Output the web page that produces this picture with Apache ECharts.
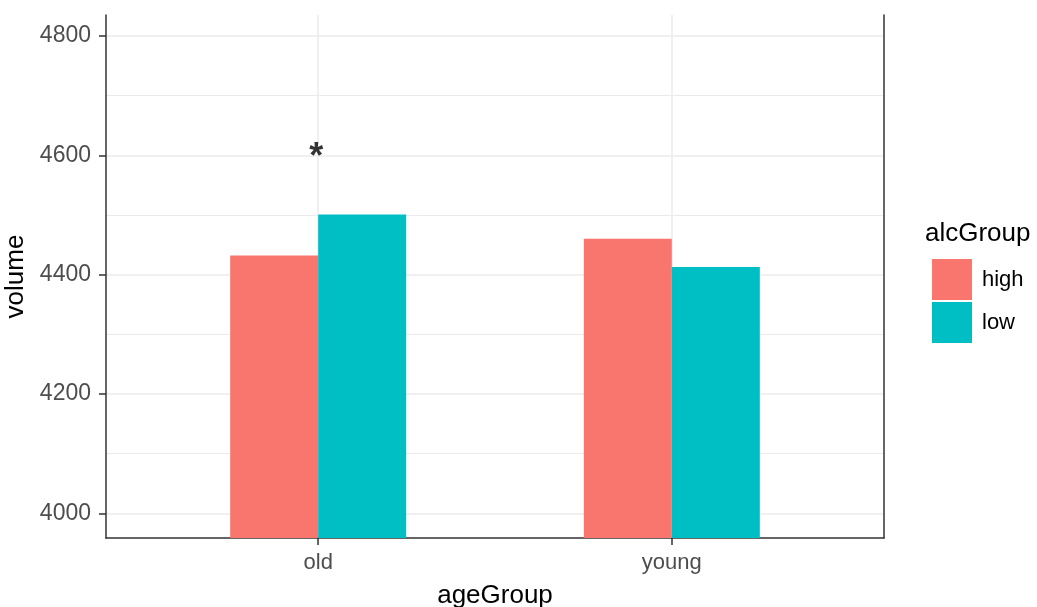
<!DOCTYPE html>
<html>
<head>
<meta charset="utf-8">
<title>volume by ageGroup</title>
<script src="https://cdn.jsdelivr.net/npm/echarts@6/dist/echarts.min.js"></script>
<style>
  html, body { margin: 0; padding: 0; background: #fff; }
  #chart { width: 1037px; height: 607px; }
</style>
</head>
<body>
<div id="chart"></div>
<script>
// categories on x, dodge groups
var ageGroups = ['old', 'young'];
var alcGroups = ['high', 'low'];
// mean volume per group
var highVolume = [4432, 4460];
var lowVolume = [4501, 4413];
// y breaks
var majorBreaks = [4000, 4200, 4400, 4600, 4800];
var minorBreaks = [4100, 4300, 4500, 4700];
// significance mark
var sigGroup = [1];
var sigY = [4600];
var sigText = ['*'];

var yMin = 3958.6, yMax = 4835.2;
var fontFam = '"Liberation Sans", Arial, sans-serif';

function toPoints(arr) {
    return arr.map(function (v, i) { return [i + 1, v]; });
}

var myChart = echarts.init(document.getElementById('chart'));
var option = {
    animation: false,
    textStyle: { fontFamily: fontFam },
    title: {
        text: 'alcGroup',
        left: 920,
        top: 216,
        textStyle: { fontSize: 26, fontWeight: 'normal', color: '#000', fontFamily: fontFam }
    },
    legend: {
        data: alcGroups,
        orient: 'vertical',
        left: 927,
        top: 254,
        icon: 'rect',
        itemWidth: 40,
        itemHeight: 41,
        itemGap: 2,
        textStyle: { fontSize: 22, color: '#000', padding: [0, 0, 0, 5], fontFamily: fontFam }
    },
    grid: { left: 106, right: 153, top: 15, bottom: 69, outerBoundsMode: 'none', containLabel: false },
    xAxis: {
        type: 'value',
        min: 0.4,
        max: 2.6,
        name: 'ageGroup',
        nameLocation: 'middle',
        nameGap: 45,
        nameTextStyle: { fontSize: 26, color: '#000', fontFamily: fontFam },
        axisLine: { show: true, lineStyle: { color: '#333', width: 1.5 } },
        axisTick: { show: true, length: 7, customValues: [1, 2], lineStyle: { color: '#333', width: 1.5 } },
        axisLabel: {
            customValues: [1, 2],
            margin: 14,
            fontSize: 22,
            color: '#4D4D4D',
            formatter: function (v) { return ageGroups[Math.round(v) - 1]; }
        },
        splitLine: { show: true, lineStyle: { color: '#EBEBEB', width: 1.5 } }
    },
    yAxis: [{
        type: 'value',
        min: yMin,
        max: yMax,
        name: 'volume',
        nameLocation: 'middle',
        nameRotate: 90,
        nameGap: 63,
        nameTextStyle: { fontSize: 26, color: '#000', fontFamily: fontFam },
        axisLine: { show: true, lineStyle: { color: '#333', width: 1.5 } },
        axisTick: { show: true, length: 7, customValues: majorBreaks, lineStyle: { color: '#333', width: 1.5 } },
        axisLabel: {
            customValues: majorBreaks,
            margin: 15,
            fontSize: 23,
            color: '#4D4D4D',
            padding: [8, 0, 0, 0],
            formatter: function (v) { return String(v); }
        },
        splitLine: { show: true, lineStyle: { color: '#EBEBEB', width: 1.5 } }
    }, {
        type: 'value',
        position: 'right',
        min: yMin,
        max: yMax,
        axisLine: { show: true, lineStyle: { color: '#333', width: 1.5 } },
        axisTick: { show: false, customValues: minorBreaks },
        axisLabel: { show: false },
        splitLine: { show: true, lineStyle: { color: '#EBEBEB', width: 1 } }
    }],
    series: [{
        name: alcGroups[0],
        type: 'bar',
        data: toPoints(highVolume),
        barWidth: 88,
        barGap: '0%',
        itemStyle: { color: '#F8766D' },
        z: 3
    }, {
        name: alcGroups[1],
        type: 'bar',
        data: toPoints(lowVolume),
        barWidth: 88,
        barGap: '0%',
        itemStyle: { color: '#00BFC4' },
        z: 3
    }, {
        type: 'scatter',
        symbolSize: 0,
        data: sigGroup.map(function (g, i) { return [g, sigY[i]]; }),
        label: {
            show: true,
            position: 'inside',
            offset: [-2, 3],
            fontSize: 36,
            fontWeight: 'bold',
            color: '#000',
            fontFamily: fontFam,
            formatter: function (p) { return sigText[p.dataIndex]; }
        },
        z: 5
    }]
};
myChart.setOption(option);
window.addEventListener('resize', function () {
    myChart.resize();
});
</script>
</body>
</html>
